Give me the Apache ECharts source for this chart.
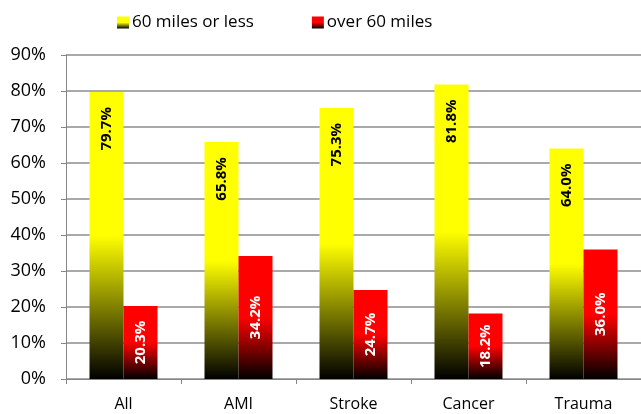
<!DOCTYPE html>
<html>
<head>
<meta charset="utf-8">
<script src="https://cdn.jsdelivr.net/npm/echarts@6/dist/echarts.min.js"></script>
<style>
  html, body { margin: 0; padding: 0; background: #fff; }
  #chart { width: 641px; height: 414px; }
</style>
</head>
<body>
<div id="chart"></div>
<script>
// Share of patients by travel distance, per condition
const categories = ['All', 'AMI', 'Stroke', 'Cancer', 'Trauma'];
const nearValues = [79.7, 65.8, 75.3, 81.8, 64.0];   // 60 miles or less
const farValues  = [20.3, 34.2, 24.7, 18.2, 36.0];   // over 60 miles
const yTicks = { min: 0, max: 90, step: 10 };

const FONT = '"Open Sans", "Liberation Sans", sans-serif';

// vertical fade: solid colour on the upper half, blending to black at the base
function fade(color) {
  return new echarts.graphic.LinearGradient(0, 0, 0, 1, [
    { offset: 0, color: color },
    { offset: 0.5, color: color },
    { offset: 1, color: '#000000' }
  ]);
}

const chart = echarts.init(document.getElementById('chart'), null, { renderer: 'canvas' });

chart.setOption({
  animation: false,
  backgroundColor: '#ffffff',
  textStyle: { fontFamily: FONT },
  legend: {
    top: 9,
    left: 112,
    itemWidth: 12,
    itemHeight: 12,
    itemGap: 58,
    icon: 'rect',
    textStyle: { fontSize: 17, color: '#000', fontFamily: FONT, padding: [0, 0, 0, -2] },
    data: ['60 miles or less', 'over 60 miles']
  },
  grid: { left: 66, right: -5, top: 55, bottom: 35, containLabel: false },
  xAxis: {
    type: 'category',
    data: categories,
    axisLine: { show: true, lineStyle: { color: '#868686', width: 1 } },
    axisTick: { show: true, length: 5, lineStyle: { color: '#868686' } },
    axisLabel: { color: '#000', fontSize: 16, margin: 17, fontFamily: FONT }
  },
  yAxis: {
    type: 'value',
    min: yTicks.min,
    max: yTicks.max,
    interval: yTicks.step,
    axisLine: { show: true, lineStyle: { color: '#868686', width: 1 } },
    axisTick: { show: true, length: 5, lineStyle: { color: '#868686' } },
    axisLabel: { color: '#000', fontSize: 18, margin: 20, formatter: '{value}%', fontFamily: FONT },
    splitLine: { show: true, lineStyle: { color: '#8c8c8c', width: 1.5 } }
  },
  series: [
    {
      name: '60 miles or less',
      type: 'bar',
      data: nearValues,
      barWidth: 34,
      barGap: '0%',
      itemStyle: { color: fade('#ffff00') },
      label: {
        show: true,
        position: 'insideTop',
        distance: 15,
        rotate: 90,
        align: 'right',
        verticalAlign: 'middle',
        color: '#000',
        fontWeight: 'bold',
        fontSize: 15,
        fontFamily: FONT,
        formatter: p => p.value.toFixed(1) + '%'
      }
    },
    {
      name: 'over 60 miles',
      type: 'bar',
      data: farValues,
      barWidth: 34,
      barGap: '0%',
      itemStyle: { color: fade('#ff0000') },
      label: {
        show: true,
        position: 'inside',
        rotate: 90,
        color: '#fff',
        fontWeight: 'bold',
        fontSize: 15,
        fontFamily: FONT,
        formatter: p => p.value.toFixed(1) + '%'
      }
    }
  ]
});
</script>
</body>
</html>
